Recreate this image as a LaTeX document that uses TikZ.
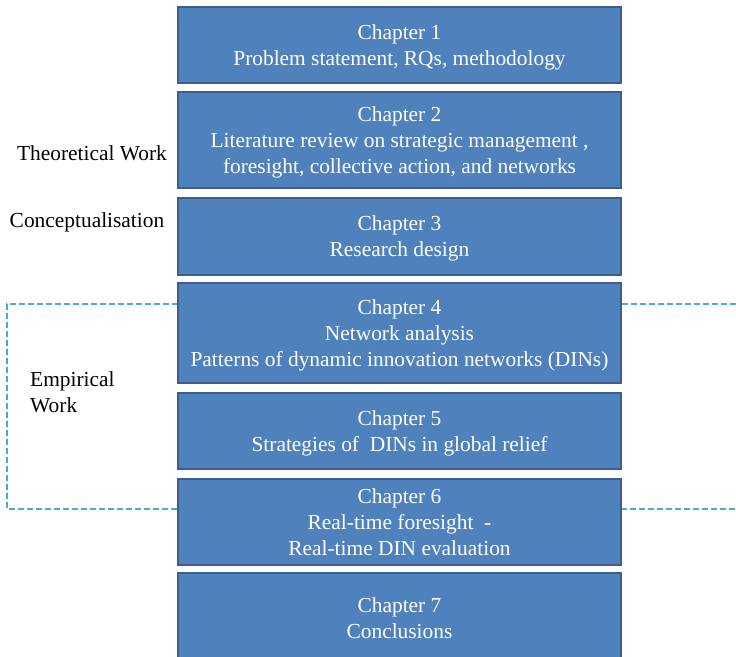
\documentclass[tikz,border=0pt]{standalone}
\usepackage{fontspec}
\setmainfont{Liberation Serif}
\usepackage{tikz}
\definecolor{chapfill}{HTML}{4F81BD}
\definecolor{chapline}{HTML}{3A5F8E}
\definecolor{empline}{HTML}{4BACC6}
\tikzset{
	chapbox/.style={draw=chapline, line width=1.6pt, fill=chapfill, text=white,
		minimum width=443pt, align=center, inner sep=0pt, text depth=0pt,
		font=\fontsize{21.4}{26}\selectfont},
	sidelabel/.style={font=\fontsize{21.4}{26}\selectfont, inner sep=0pt}
}

\begin{document}
\begin{tikzpicture}[x=1pt, y=-1pt]
			%%%%% START %%%%%
			\useasboundingbox (0, 0) rectangle (736, 656);
			\clip (0, 0) rectangle (736, 656);
			
			% dashed bracket of the empirical part
			\coordinate (emptop) at (736, 304);
			\coordinate (empbot) at (736, 509);
			\draw[color=empline, line width=1.6pt, dash pattern=on 6pt off 3pt]
				(emptop) -- (7, 304) -- (7, 509) -- (empbot);
			
			% chapters
			\node[chapbox, minimum height=76pt] (ch1) at (399.5, 45)
				{Chapter 1\\Problem statement, RQs, methodology};
			\node[chapbox, minimum height=96pt] (ch2) at (399.5, 140)
				{Chapter 2\\Literature review on strategic management ,\\foresight, collective action, and networks};
			\node[chapbox, minimum height=77pt] (ch3) at (399.5, 236.5)
				{Chapter 3\\Research design};
			\node[chapbox, minimum height=100pt] (ch4) at (399.5, 333)
				{Chapter 4\\Network analysis\\Patterns of dynamic innovation networks (DINs)};
			\node[chapbox, minimum height=76pt] (ch5) at (399.5, 431)
				{Chapter 5\\Strategies of \ DINs in global relief};
			\node[chapbox, minimum height=86pt] (ch6) at (399.5, 522)
				{Chapter 6\\Real-time foresight \ -\\Real-time DIN evaluation};
			\node[chapbox, minimum height=90pt] (ch7) at (399.5, 618)
				{Chapter 7\\Conclusions};
			
			% side labels
			\node[sidelabel] (theo) at (92, 153) {Theoretical Work};
			\node[sidelabel] (concept) at (87, 222) {Conceptualisation};
			\node[sidelabel, anchor=west, align=left] (empir) at (30, 392) {Empirical\\Work};
			
			%%%%% END %%%%%
\end{tikzpicture}
\end{document}
